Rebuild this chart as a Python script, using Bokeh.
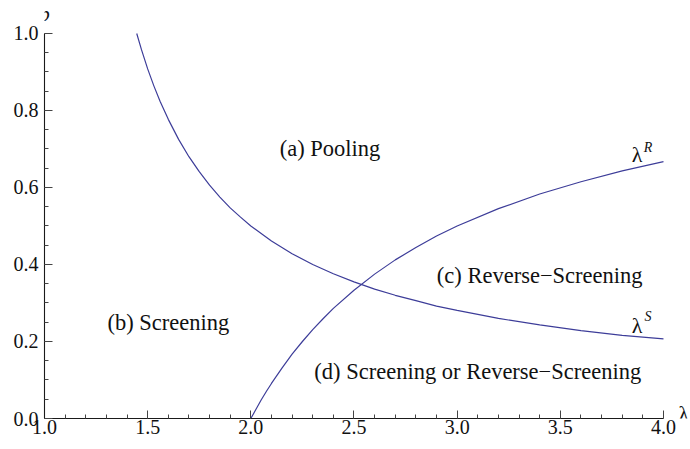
from bokeh.plotting import figure
from bokeh.models import Label, PrintfTickFormatter, FixedTicker
from bokeh.embed import file_html
from bokeh.resources import INLINE

# lambda^S boundary
lam_s = [1.447, 1.47, 1.50, 1.53, 1.56, 1.60, 1.65, 1.70, 1.75, 1.80, 1.85, 1.90, 1.95,
         2.00, 2.10, 2.20, 2.30, 2.40, 2.50, 2.60, 2.70, 2.80, 2.90, 3.00, 3.20, 3.40,
         3.60, 3.80, 4.00]
p_s = [1.000, 0.958, 0.908, 0.864, 0.824, 0.777, 0.725, 0.680, 0.641, 0.606, 0.575, 0.547,
       0.523, 0.500, 0.461, 0.428, 0.400, 0.376, 0.355, 0.336, 0.320, 0.306, 0.292, 0.281,
       0.260, 0.243, 0.228, 0.216, 0.207]

# lambda^R boundary
lam_r = [2.000, 2.025, 2.050, 2.075, 2.10, 2.15, 2.20, 2.25, 2.30, 2.35, 2.40, 2.50, 2.60,
         2.70, 2.80, 2.90, 3.00, 3.20, 3.40, 3.60, 3.80, 4.00]
p_r = [0.000, 0.024, 0.048, 0.070, 0.091, 0.130, 0.167, 0.200, 0.231, 0.259, 0.286, 0.333,
       0.375, 0.412, 0.444, 0.474, 0.500, 0.545, 0.583, 0.615, 0.643, 0.667]

x_major = [1.0, 1.5, 2.0, 2.5, 3.0, 3.5, 4.0]
y_major = [0.0, 0.2, 0.4, 0.6, 0.8, 1.0]

region_labels = ["(a) Pooling", "(b) Screening", "(c) Reverse\u2212Screening",
                 "(d) Screening or Reverse\u2212Screening"]
region_x = [2.384, 1.60, 3.40, 3.10]
region_y = [0.700, 0.250, 0.371, 0.122]

CURVE = "#3d3d99"
FONT = "Liberation Serif"
INK = "#111111"

p = figure(frame_width=644, frame_height=418, x_range=(1.0, 4.1212), y_range=(0.0, 1.0857),
           output_backend="svg", toolbar_location=None,
           min_border_left=44, min_border_top=0, min_border_right=2, min_border_bottom=24)
p.outline_line_color = None
p.xgrid.visible = False
p.ygrid.visible = False
p.background_fill_color = "white"
p.border_fill_color = "white"

xminor = [round(1.0 + 0.1 * i, 2) for i in range(31)]
yminor = [round(0.05 * i, 2) for i in range(21)]
p.xaxis.ticker = FixedTicker(ticks=x_major, minor_ticks=xminor)
p.yaxis.ticker = FixedTicker(ticks=y_major, minor_ticks=yminor)
p.xaxis.bounds = (1.0, 4.0)
p.yaxis.bounds = (0.0, 1.0)
for ax in (p.xaxis, p.yaxis):
    ax.formatter = PrintfTickFormatter(format="%.1f")
    ax.axis_line_color = "#1a1a1a"
    ax.axis_line_width = 1.1
    ax.major_tick_line_color = "#444444"
    ax.minor_tick_line_color = "#444444"
    ax.major_tick_in = 8
    ax.major_tick_out = 0
    ax.minor_tick_in = 4
    ax.minor_tick_out = 0
    ax.major_label_text_font = FONT
    ax.major_label_text_font_size = "20px"
    ax.major_label_text_color = INK
p.xaxis.major_label_standoff = 1
p.yaxis.major_label_standoff = 6

p.line(lam_s, p_s, line_color=CURVE, line_width=1.2)
p.line(lam_r, p_r, line_color=CURVE, line_width=1.2)

for t, x, y in zip(region_labels, region_x, region_y):
    p.add_layout(Label(x=x, y=y, text=t, text_align="center", text_baseline="middle",
                       text_font=FONT, text_font_size="22.5px", text_color=INK))

# curve labels
p.add_layout(Label(x=3.872, y=0.685, text="\u03bb", text_align="center", text_baseline="middle",
                   text_font=FONT, text_font_size="22px", text_color=INK))
p.add_layout(Label(x=3.925, y=0.705, text="R", text_align="center", text_baseline="middle",
                   text_font=FONT, text_font_style="italic", text_font_size="14px", text_color=INK))
p.add_layout(Label(x=3.872, y=0.242, text="\u03bb", text_align="center", text_baseline="middle",
                   text_font=FONT, text_font_size="22px", text_color=INK))
p.add_layout(Label(x=3.925, y=0.264, text="S", text_align="center", text_baseline="middle",
                   text_font=FONT, text_font_style="italic", text_font_size="14px", text_color=INK))

# axis names
p.add_layout(Label(x=1.0, y=1.0, y_offset=19, text="p", text_align="center", text_baseline="middle",
                   text_font=FONT, text_font_style="italic", text_font_size="21px", text_color=INK))
p.add_layout(Label(x=4.0, y=0.0, x_offset=20, y_offset=5, text="\u03bb", text_align="center",
                   text_baseline="middle", text_font=FONT, text_font_size="21px", text_color=INK))

with open("out.html", "w", encoding="utf-8") as f:
    f.write(file_html(p, INLINE))
